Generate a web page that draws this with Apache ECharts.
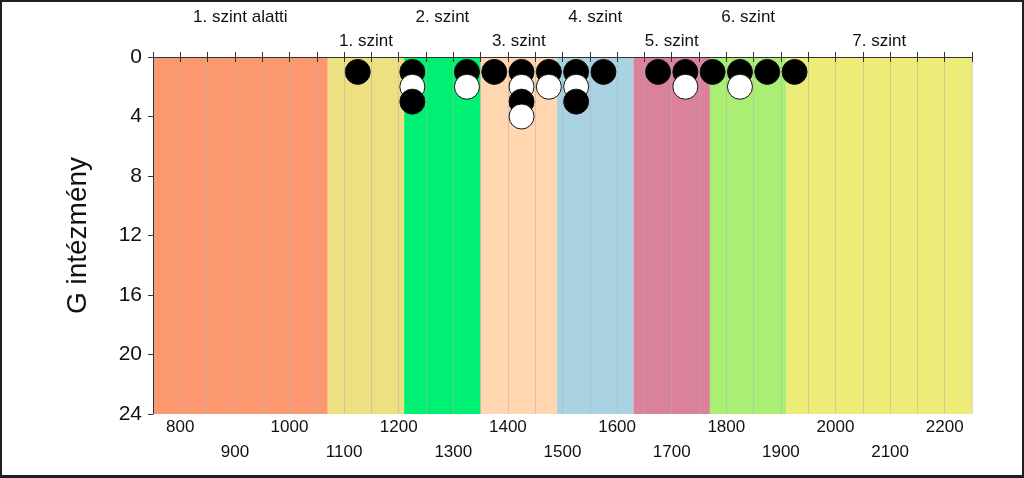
<!DOCTYPE html>
<html>
<head>
<meta charset="utf-8">
<script src="https://cdn.jsdelivr.net/npm/echarts@6/dist/echarts.min.js"></script>
<style>
html,body{margin:0;padding:0;background:#fff;}
#wrap{position:relative;width:1024px;height:478px;}
#chart{position:absolute;left:0;top:0;width:1024px;height:478px;}
#frame{position:absolute;left:0;top:0;width:1024px;height:478px;box-sizing:border-box;border:2px solid #1e1e1e;border-bottom-width:3px;pointer-events:none;}
</style>
</head>
<body>
<div id="wrap"><div id="chart"></div><div id="frame"></div></div>
<script>
// ---- data ----
const bandEdges = [750, 1070, 1210, 1350, 1490, 1630, 1770, 1910, 2250];
const bandNames = ['1. szint alatti', '1. szint', '2. szint', '3. szint', '4. szint', '5. szint', '6. szint', '7. szint'];
const bandColors = ['#FC9870', '#ECE080', '#00F073', '#FFD6B0', '#A9D3E3', '#D9829A', '#ABEE74', '#EEEC78'];
// stacked dots: level n = n-th institution in that score bin
const level1 = [1125, 1225, 1325, 1375, 1425, 1475, 1525, 1575, 1675, 1725, 1775, 1825, 1875, 1925];
const level2 = [1225, 1325, 1425, 1475, 1525, 1725, 1825];
const level3 = [1225, 1425, 1525];
const level4 = [1425];
const levels = [level1, level2, level3, level4];
const xLabelsRow1 = [800, 1000, 1200, 1400, 1600, 1800, 2000, 2200];
const xLabelsRow2 = [900, 1100, 1300, 1500, 1700, 1900, 2100];
const yTicks = [0, 4, 8, 12, 16, 20, 24];

const xMin = bandEdges[0], xMax = bandEdges[bandEdges.length - 1];
const font = 'Liberation Sans, Arial, sans-serif';
const axisColor = '#333';

const areaData = bandNames.map((n, i) => [
  {
    name: n,
    xAxis: bandEdges[i],
    yAxis: yTicks[0],
    itemStyle: { color: bandColors[i], opacity: 1 },
    label: { show: true, position: 'top', distance: i % 2 === 0 ? 31 : 7, formatter: n,
             fontSize: 17, color: '#111', fontFamily: font }
  },
  { xAxis: bandEdges[i + 1], yAxis: yTicks[yTicks.length - 1] }
]);

const series = [{
  type: 'line',
  data: [],
  z: 1,
  clip: false,
  silent: true,
  markArea: { silent: true, data: areaData }
}];
levels.forEach((lv, i) => {
  series.push({
    type: 'scatter',
    z: 5 + i,
    symbolSize: 25,
    data: lv.map(x => [x, i + 1]),
    itemStyle: {
      color: i % 2 === 0 ? '#000' : '#fff',
      borderColor: '#111',
      borderWidth: 1,
      opacity: 1
    }
  });
});

const chart = echarts.init(document.getElementById('chart'), null, { renderer: 'canvas' });
chart.setOption({
  animation: false,
  textStyle: { fontFamily: font },
  grid: { left: 153, right: 52, top: 57, bottom: 64, containLabel: false },
  xAxis: [
    {
      type: 'value', position: 'bottom', min: xMin, max: xMax, interval: 50, z: 3,
      axisLine: { show: true, lineStyle: { color: axisColor, width: 1 } },
      axisTick: { show: true, length: 5, lineStyle: { color: axisColor } },
      axisLabel: { margin: 5, fontSize: 17, color: '#111', fontFamily: font,
                   formatter: v => xLabelsRow1.indexOf(v) >= 0 ? String(v) : '' },
      splitLine: { show: true, lineStyle: { color: 'rgba(175,175,175,0.5)', width: 1 } }
    },
    {
      type: 'value', position: 'bottom', min: xMin, max: xMax, interval: 50,
      axisLine: { show: false }, axisTick: { show: false }, splitLine: { show: false },
      axisLabel: { margin: 30, fontSize: 17, color: '#111', fontFamily: font,
                   formatter: v => xLabelsRow2.indexOf(v) >= 0 ? String(v) : '' }
    },
    {
      type: 'value', position: 'top', min: xMin, max: xMax, interval: 50, z: 3,
      axisLine: { show: true, lineStyle: { color: axisColor, width: 1 } },
      axisTick: { show: true, length: 5, lineStyle: { color: axisColor } },
      axisLabel: { show: false }, splitLine: { show: false }
    }
  ],
  yAxis: {
    type: 'value', inverse: true, min: 0, max: 24, interval: 4, z: 3,
    name: 'G intézmény', nameLocation: 'middle', nameGap: 61,
    nameTextStyle: { fontSize: 28, color: '#111', fontFamily: font },
    axisLine: { show: true, lineStyle: { color: axisColor, width: 1 } },
    axisTick: { show: true, length: 5, lineStyle: { color: axisColor } },
    axisLabel: { margin: 11, fontSize: 21, color: '#111', fontFamily: font },
    splitLine: { show: false }
  },
  series: series
});
</script>
</body>
</html>
